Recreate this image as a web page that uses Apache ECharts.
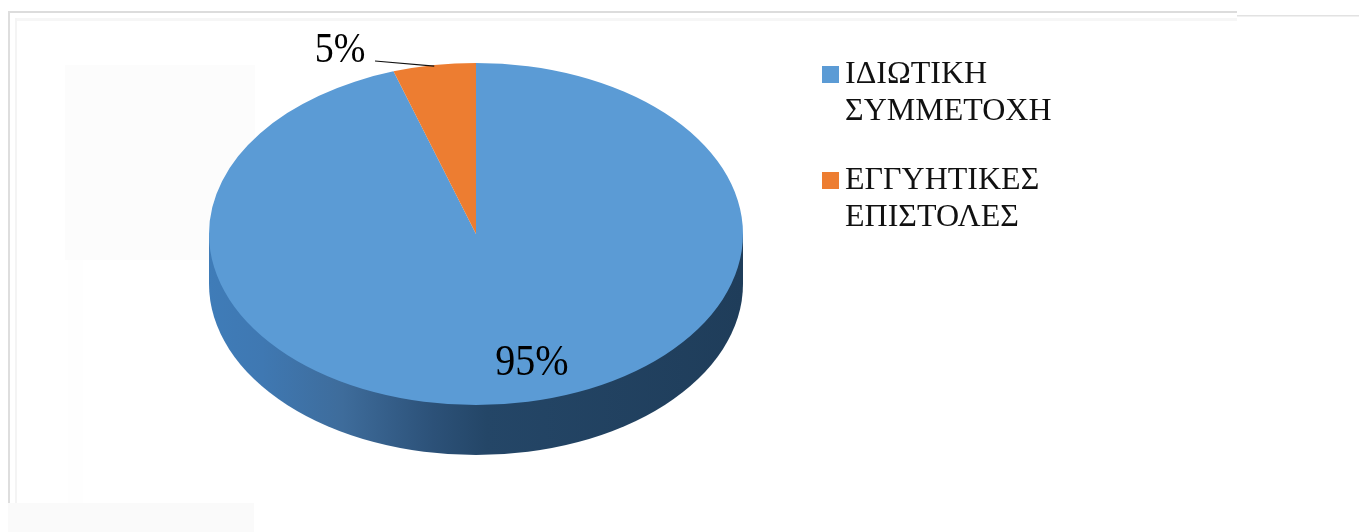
<!DOCTYPE html>
<html><head><meta charset="utf-8">
<style>html,body{margin:0;padding:0;background:#fff}#c{width:1361px;height:532px}</style>
<script src="https://cdn.jsdelivr.net/npm/echarts@6/dist/echarts.min.js"></script>
</head><body><div id="c"></div>
<script>
const categories = ['ΙΔΙΩΤΙΚΗ\nΣΥΜΜΕΤΟΧΗ', 'ΕΓΓΥΗΤΙΚΕΣ\nΕΠΙΣΤΟΛΕΣ'];
const values = [95, 5];
const colors = ['#5b9bd5', '#ed7d31'];
const serif = '"Liberation Serif", serif';
const total = values.reduce((a, b) => a + b, 0);
const cx = 476, cy = 234, rx = 267, ry = 171, depth = 50;

function angleOf(i) {
  let before = 0;
  for (let k = 0; k < i; k++) before += values[k];
  const start = -Math.PI / 2 + before / total * Math.PI * 2;
  return { start, end: start + values[i] / total * Math.PI * 2 };
}
function rim() {
  return {
    type: 'path', z2: 1,
    shape: {
      pathData: `M${cx - rx} ${cy}L${cx - rx} ${cy + depth}A${rx} ${ry} 0 0 0 ${cx + rx} ${cy + depth}L${cx + rx} ${cy}Z`,
      layout: 'cover', x: cx - rx, y: cy, width: 2 * rx, height: ry + depth
    },
    style: { fill: { type: 'linear', x: 0, y: 0, x2: 1, y2: 0, colorStops: [
      { offset: 0, color: '#3f7cb8' }, { offset: 0.1, color: '#3f78b2' }, { offset: 0.25, color: '#3e6c9b' },
      { offset: 0.42, color: '#2c5178' }, { offset: 0.52, color: '#244667' }, { offset: 1, color: '#1f3d5a' }
    ] } }
  };
}
function renderSlice(i) {
  return function (params, api) {
    const a = angleOf(i), children = [];
    if (i === 0) children.push(rim());
    children.push({
      type: 'sector', z2: 2, x: cx, y: cy, scaleY: ry / rx,
      shape: { cx: 0, cy: 0, r0: 0, r: rx, startAngle: a.start, endAngle: a.end, clockwise: true },
      style: { fill: colors[i] }
    });
    const text = api.value(0) + '%';
    if (i === 0) {
      children.push({ type: 'text', z2: 5, x: 532, y: 363, scaleY: 1.1,
        style: { text, font: '40px ' + serif, fill: '#000', align: 'center', verticalAlign: 'middle' } });
    } else {
      const mid = (a.start + a.end) / 2;
      children.push({ type: 'text', z2: 5, x: 340, y: 51.5, scaleY: 1.1,
        style: { text, font: '38px ' + serif, fill: '#000', align: 'center', verticalAlign: 'middle' } });
      children.push({ type: 'line', z2: 5,
        shape: { x1: 375, y1: 61, x2: cx + rx * Math.cos(mid), y2: cy + ry * Math.sin(mid) + 1 },
        style: { stroke: '#111', lineWidth: 1.2 } });
    }
    return { type: 'group', children };
  };
}
function band(x, y, w, h, fill) {
  return { type: 'rect', silent: true, z: -10, shape: { x, y, width: w, height: h }, style: { fill } };
}
const legendBase = {
  orient: 'vertical', left: 822, padding: 0, itemWidth: 17, itemHeight: 17, icon: 'rect', itemGap: 0,
  selectedMode: false, formatter: n => ' \n' + n,
  textStyle: { fontFamily: serif, fontSize: 32, lineHeight: 37, color: '#111', padding: [0, 0, 0, 1] }
};
const chart = echarts.init(document.getElementById('c'), null, { renderer: 'canvas' });
chart.setOption({
  animation: false,
  backgroundColor: '#ffffff',
  tooltip: { show: false },
  graphic: { elements: [
    band(65, 65, 190, 195, '#fcfcfc'),
    band(68, 260, 15, 243, '#fefefe'),
    band(8, 503, 246, 29, '#fafafa'),
    band(16, 18, 1221, 3, '#f6f6f6'),
    band(9, 11, 1228, 2, '#dcdcdc'),
    band(1237, 15, 122, 1.5, '#e2e2e2'),
    band(8, 11, 2, 492, '#dedede'),
    band(15, 18, 2, 485, '#f4f4f4')
  ] },
  legend: [
    Object.assign({}, legendBase, { top: 19, data: [categories[0]] }),
    Object.assign({}, legendBase, { top: 125, data: [categories[1]] })
  ],
  series: categories.map((name, i) => ({
    type: 'custom', name, coordinateSystem: 'none', silent: true,
    itemStyle: { color: colors[i] },
    data: [values[i]],
    renderItem: renderSlice(i)
  }))
});
</script></body></html>
